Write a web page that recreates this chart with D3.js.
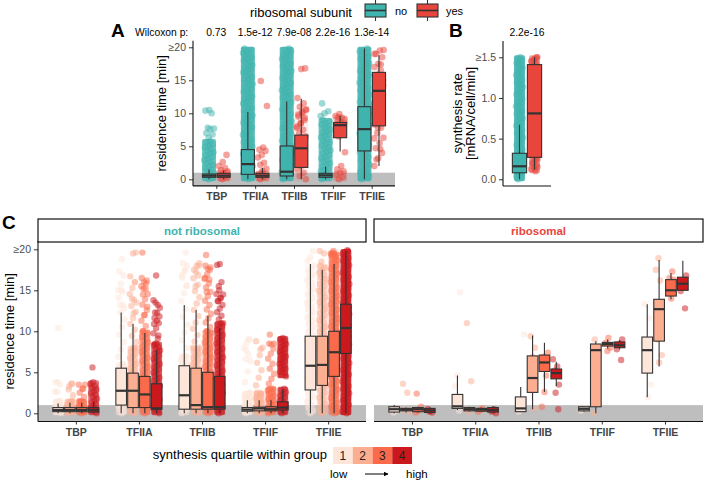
<!DOCTYPE html>
<html><head><meta charset="utf-8">
<script src="https://cdn.jsdelivr.net/npm/d3@7"></script>
<style>body{margin:0;background:#fff} svg{display:block} text{font-family:"Liberation Sans",Arial,Helvetica,sans-serif}</style>
</head><body><svg id="c" width="704" height="480"></svg>
<script>
// ---------------- DATA ----------------
const cats = ["TBP","TFIIA","TFIIB","TFIIF","TFIIE"];
const wilcoxA = ["0.73","1.5e-12","7.9e-08","2.2e-16","1.3e-14"];
const wilcoxB = ["2.2e-16"];
const subunits = ["no","yes"];
const quartiles = ["1","2","3","4"];
const facets = ["not ribosomal","ribosomal"];
const timeTicks = [0,5,10,15,20];
const timeTickLabels = ["0","5","10","15","≥20"];
const rateTicks = [0,0.5,1.0,1.5];
const rateTickLabels = ["0.0","0.5","1.0","≥1.5"];

// Panel A: box stats [lower whisker, Q1, median, Q3, upper whisker]
const boxA_no  = [[0,0.3,0.55,0.8,1.5],[0,0.75,2.3,4.5,10.2],[0,0.5,1.15,5.05,11.8],[0,0.3,0.6,0.9,1.9],[0,4.3,7.6,11.0,19.8]];
const boxA_yes = [[0,0.3,0.55,0.9,1.3],[0,0.3,0.55,0.9,1.7],[0,1.8,4.7,6.7,12.2],[4.2,6.3,8.2,8.6,9.6],[2.0,8.1,13.4,16.2,18.8]];
// dense point clouds [from, to, density]
const denseA_no  = [[[0,5.8,0.95]],[[0,19.8,1]],[[0,19.8,1]],[[0,9.0,0.95]],[[0,19.8,1]]];
const denseA_yes = [[[0,1.2,0.8]],[[0,1.0,0.8]],[[0,10.5,0.6]],[[0,1.0,0.7],[7.6,9.4,0.7]],[[3,19,0.3]]];
// individual points (residence time, min)
const ptsA_no  = [[10.5,10.4,10.0,7.8,7.7,7.6,7.0,6.8,6.3],[],[],[11.5,10.3,10.0,9.6],[]];
const ptsA_yes = [[3.7,2.6,2.0,1.7,1.4],[14.9,11.1,4.8,4.5,4.3,3.7,3.3,2.5,2.2,1.6,1.3],
  [16.8,16.7,12.3,11.5,11.0,10.6,10.2,9.8,9.3,8.5,7.8],
  [9.9,9.6,9.3,8.9,8.5,7.9,7.5,7.2,6.5,4.1,2.0,1.5,1.2],
  [19.6,19.5,19.0,18.5,17.5,17.0,16.5,15.8,15.0,14.3,13.5,12.8,12.0,11.5,10.8,10.0,9.5,9.0,8.3,7.8,7.0,6.3,5.5,4.7,4.0,3.2,2.0]];

// Panel B: synthesis rate
const boxB_no  = [0,0.08,0.16,0.32,0.67];
const boxB_yes = [0.12,0.27,0.81,1.41,1.5];
const denseB_no  = [[0,1.5,1]];
const denseB_yes = [[1.35,1.5,0.8],[0.1,0.3,0.8]];
const ptsB_no  = [];
const ptsB_yes = [1.5,1.48,1.45,1.42,1.38,1.3,1.2,1.1,0.95,0.85,0.7,0.6,0.5,0.4,0.35,0.3,0.25,0.2,0.15,0.12];

// Panel C, not ribosomal: [category][quartile]
const boxC_not = [
  [[0,0.2,0.4,0.7,1.2],[0,0.2,0.4,0.7,1.3],[0,0.2,0.4,0.7,1.3],[0,0.15,0.4,0.7,1.4]],
  [[0,1.0,2.75,5.5,12.3],[0,0.7,2.75,4.9,10.9],[0,0.7,2.3,4.5,9.8],[0,0.5,0.6,3.6,7.7]],
  [[0,0.5,2.2,5.8,13.2],[0,0.5,1.0,5.5,12.6],[0,0.5,0.75,5.0,11.9],[0,0.5,0.75,4.5,10.4]],
  [[0,0.25,0.45,0.7,1.6],[0,0.3,0.6,0.75,1.6],[0,0.3,0.5,0.8,1.6],[0,0.4,0.7,1.4,2.9]],
  [[0,2.85,5.8,9.4,18.2],[0,3.4,5.9,9.4,17.5],[0,4.5,7.45,10.0,18.2],[0,7.3,10.4,13.3,19.8]]];
const denseC_not = [
  [[[0,1.5,0.9],[1.5,3.8,0.35]],[[0,1.5,0.9],[1.5,3.6,0.45]],[[0,1.5,0.9],[1.5,3.5,0.5]],[[0,3.8,0.85]]],
  [[[0,6,0.8],[6,15,0.35]],[[0,8,0.8],[8,16,0.4]],[[0,10,0.85],[10,16.5,0.45]],[[0,8.5,0.9],[8.5,13.5,0.45]]],
  [[[0,7,0.8],[7,17.5,0.35]],[[0,8,0.8],[8,18,0.4]],[[0,10,0.85],[10,18,0.5]],[[0,11,0.9],[11,15,0.55]]],
  [[[0,2.5,0.9],[2.5,9,0.3]],[[0,2.5,0.9],[2.5,8,0.35]],[[0,3,0.9],[3,8.5,0.45]],[[0,3,0.9],[4.5,9.2,0.95]]],
  [[[0,18,0.65]],[[0,18,0.75]],[[0,19.5,0.9]],[[0,19.8,1]]]];
const ptsC_not = [
  [[10.4,3.8,3.5,2.6],[3.6,3.3],[3.5,3.0],[5.6]],
  [[18.8,17.3,16.8,15.8,15.0,14.8,13.2,12.8],[19.6,19.5,16.7,16.0,14.0,13.5,12.2],[19.6,16.2,16.0,15.5,15.2,14.5,13.0,12.0],[16.8,13.8,13.2,12.3,11.8,11.3,10.9,9.5]],
  [[19.6,18.3,18.0,17.3,16.8,15.5],[18.3,18.0,17.5,16.8,15.5],[19.3,17.8,17.6,16.5,16.3,14.8],[18.2,18.1,16.0,15.5,14.5,14.0,13.7]],
  [[9.0,8.6,8.0,7.2,6.6],[8.8,7.8],[9.6,8.5,8.4],[]],
  [[19.8,19.0,18.6],[19.8,19.5,18.5],[19.8,19.5,19.2,19.6],[19.9]]];

// Panel C, ribosomal
const boxC_rib = [
  [[0,0.15,0.5,0.8,1.0],[0.1,0.3,0.45,0.6,0.7],[0.1,0.2,0.5,0.7,0.8],[0,0.1,0.35,0.6,0.7]],
  [[0.4,0.6,0.85,2.3,4.6],[0.2,0.3,0.5,0.7,0.8],[0.2,0.25,0.45,0.6,0.7],[0.1,0.15,0.4,0.7,0.9]],
  [[0.2,0.2,0.6,2.0,3.2],[0.5,2.55,4.3,7.0,9.5],[2.6,5.1,6.2,7.1,8.6],[3.3,4.2,4.9,5.4,6.3]],
  [[0.2,0.3,0.55,0.8,0.9],[0,0.8,7.7,8.45,8.8],[7.9,8.2,8.45,8.65,9.0],[7.8,8.0,8.3,8.7,8.9]],
  [[1.95,4.9,7.7,9.3,13.3],[5.7,8.8,12.7,13.9,18.7],[13.9,14.3,15.0,16.3,17.1],[15.0,15.0,15.8,16.6,18.6]]];
const ptsC_rib = [
  [[0.3,0.1,0.5],[3.6,2.5,0.4,0.2],[2.4,0.8,0.3,0.1],[0.3,0.5,0.1,0.2]],
  [[14.75,4.6,3.3,0.3],[11.0,3.9,0.2,0.5],[0.4,0.2,0.6],[0.5,0.2,0.0,0.3]],
  [[9.6,1.5,0.2],[9.4,8.0,6.9,3.0,0.6],[2.6,0.8,4.6,6.9,7.4],[0.5,2.5,6.6,5.7,5.2,3.5]],
  [[0.3,0.6],[9.0,7.5,6.3,0.0],[9.2,8.6,8.0,7.6],[9.0,8.5,7.8,6.5]],
  [[13.3,11.6,6.6,3.5,2.0],[18.9,17.5,16.2,9.0,7.1,6.2],[17.3,16.5,16.3,14.0],[16.8,15.4,14.9,12.8]]];

// ---------------- STYLE ----------------
const teal = "#3FB3AE", red = "#E8453C";
const subColors = [teal, red];
const qColors = ["#FEE5D9","#FCAE91","#FB6A4A","#CB181D"];
const boxStroke = "#333333", grayBand = "#BEBEBE";
const tickCol = "#4D4D4D";

const svg = d3.select("#c");

// jitter offset in [-0.5, 0.5) from a low-discrepancy sequence (layout only)
function jit(i, seed) { return (((i + 1) * 0.6180339887 + seed * 0.2719) % 1) - 0.5; }

function drawCloud(g, cx, y, jw, r, bands, pts, color, seed) {
  // dense regions: a translucent core plus a column of overlapping translucent circles
  (bands||[]).forEach((b, bi) => {
    const top = y(b[1]), bot = y(b[0]);
    const core = Math.max(0, (b[2] - 0.55) * 1.9);
    if (core > 0) {
      g.append("rect").attr("x", cx - jw/2 - r * 0.6).attr("width", jw + r * 1.2)
        .attr("y", top - r * 0.6).attr("height", bot - top + r * 1.2).attr("rx", r * 0.6)
        .attr("fill", color).attr("opacity", Math.min(0.85, core));
    }
    const step = r * 0.45 / Math.pow(b[2], 1.6);
    const n = Math.max(1, Math.round((bot - top) / step));
    for (let i = 0; i <= n; i++) {
      g.append("circle").attr("cx", cx + jit(i, seed + bi * 3) * jw)
        .attr("cy", top + (bot - top) * i / n).attr("r", r)
        .attr("fill", color).attr("opacity", 0.5);
    }
  });
  (pts||[]).forEach((v, i) => {
    g.append("circle").attr("cx", cx + jit(i, seed + 7) * jw).attr("cy", y(v)).attr("r", r)
      .attr("fill", color).attr("opacity", 0.5);
  });
}
function drawBox(g, cx, y, bw, s, color) {
  const sw = 1.1;
  g.append("line").attr("x1", cx).attr("x2", cx).attr("y1", y(s[0])).attr("y2", y(s[1]))
    .attr("stroke", boxStroke).attr("stroke-width", sw);
  g.append("line").attr("x1", cx).attr("x2", cx).attr("y1", y(s[3])).attr("y2", y(s[4]))
    .attr("stroke", boxStroke).attr("stroke-width", sw);
  g.append("rect").attr("x", cx - bw/2).attr("width", bw).attr("y", y(s[3]))
    .attr("height", Math.max(0.5, y(s[1]) - y(s[3]))).attr("fill", color)
    .attr("stroke", boxStroke).attr("stroke-width", sw);
  g.append("line").attr("x1", cx - bw/2).attr("x2", cx + bw/2).attr("y1", y(s[2])).attr("y2", y(s[2]))
    .attr("stroke", boxStroke).attr("stroke-width", 2.2);
}
function yAxis(g, x, y, ticks, labels, top, bottom) {
  const ax = g.append("g").attr("transform", `translate(${x},0)`)
    .call(d3.axisLeft(y).tickValues(ticks).tickFormat((d, i) => labels[i]).tickSize(4).tickPadding(3).tickSizeOuter(0));
  ax.select(".domain").remove();
  ax.selectAll(".tick line").attr("stroke", "#333");
  ax.selectAll(".tick text").attr("fill", tickCol).style("font-size", "10.5px");
  g.append("line").attr("x1", x).attr("x2", x).attr("y1", top).attr("y2", bottom)
    .attr("stroke", "#111").attr("stroke-width", 1.1);
}
function xAxis(g, x, yPos, left, right) {
  const ax = g.append("g").attr("transform", `translate(0,${yPos})`)
    .call(d3.axisBottom(x).tickSize(3).tickPadding(4).tickSizeOuter(0));
  ax.select(".domain").remove();
  ax.selectAll(".tick line").attr("stroke", "#333");
  ax.selectAll(".tick text").attr("fill", "#444").style("font-size", "10.5px").style("font-weight", "bold");
  g.append("line").attr("x1", left).attr("x2", right).attr("y1", yPos).attr("y2", yPos)
    .attr("stroke", "#111").attr("stroke-width", 1.1);
}

// ---------------- PANEL A ----------------
{
  const L = 193, R = 395, T = 40.7, B = 185.9;
  const x = d3.scalePoint().domain(cats).range([L, R]).padding(0.6);
  const y = d3.scaleLinear().domain([-1, 21]).range([B, T]);
  const g = svg.append("g");
  const slot = x.step() * 0.75 / 2;
  g.append("rect").attr("x", L).attr("width", R - L).attr("y", y(1)).attr("height", y(-1) - y(1)).attr("fill", grayBand);
  const boxes = [boxA_no, boxA_yes], dens = [denseA_no, denseA_yes], pts = [ptsA_no, ptsA_yes];
  cats.forEach((c, i) => subunits.forEach((s, k) => {
    const cx = x(c) + (k - 0.5) * slot;
    drawCloud(g, cx, y, 10, 3.3, dens[k][i], pts[k][i], subColors[k], i * 2 + k);
  }));
  cats.forEach((c, i) => subunits.forEach((s, k) => {
    const cx = x(c) + (k - 0.5) * slot;
    drawBox(g, cx, y, slot * 0.9, boxes[k][i], subColors[k]);
  }));
  yAxis(g, L, y, timeTicks, timeTickLabels, T, B);
  xAxis(g, x, B, L, R);
  g.append("text").attr("transform", `translate(166,${(T + B) / 2}) rotate(-90)`).attr("text-anchor", "middle")
    .style("font-size", "13px").attr("fill", "#000").text("residence time [min]");
  g.append("text").attr("x", 111).attr("y", 37).style("font-size", "19px").style("font-weight", "bold").text("A");
  g.append("text").attr("x", 135).attr("y", 36).style("font-size", "10.3px").text("Wilcoxon p:");
  cats.forEach((c, i) => g.append("text").attr("x", x(c)).attr("y", 36).attr("text-anchor", "middle")
    .style("font-size", "10.3px").text(wilcoxA[i]));
}

// ---------------- PANEL B ----------------
{
  const L = 503, R = 551, T = 41, B = 186;
  const x = d3.scalePoint().domain(["all"]).range([L, R]).padding(0.6);
  const y = d3.scaleLinear().domain([0, 1.5]).range([179.3, 57.3]);
  const g = svg.append("g");
  const slot = x.step() * 0.75 / 2;
  const boxes = [boxB_no, boxB_yes], dens = [denseB_no, denseB_yes], pts = [ptsB_no, ptsB_yes];
  subunits.forEach((s, k) => drawCloud(g, x("all") + (k - 0.5) * slot, y, 7, 3.3, dens[k], pts[k], subColors[k], k));
  subunits.forEach((s, k) => drawBox(g, x("all") + (k - 0.5) * slot, y, slot * 0.95, boxes[k], subColors[k]));
  yAxis(g, L, y, rateTicks, rateTickLabels, T, B);
  g.append("line").attr("x1", L).attr("x2", R).attr("y1", B).attr("y2", B).attr("stroke", "#111").attr("stroke-width", 1.1);
  const t = g.append("text").attr("transform", `translate(462,${(T + B) / 2}) rotate(-90)`).attr("text-anchor", "middle")
    .style("font-size", "13px");
  t.append("tspan").attr("x", 0).attr("dy", 0).text("synthesis rate");
  t.append("tspan").attr("x", 0).attr("dy", 13).text("[mRNA/cell/min]");
  g.append("text").attr("x", 449).attr("y", 37).style("font-size", "19px").style("font-weight", "bold").text("B");
  g.append("text").attr("x", x("all")).attr("y", 36).attr("text-anchor", "middle").style("font-size", "10.3px").text(wilcoxB[0]);
}

// ---------------- TOP LEGEND ----------------
{
  const g = svg.append("g");
  g.append("text").attr("x", 250).attr("y", 16.5).style("font-size", "13px").text("ribosomal subunit");
  const keyX = [365, 417], labX = [395, 446];
  subunits.forEach((s, k) => {
    const kx = keyX[k] + 10.5;
    g.append("line").attr("x1", kx).attr("x2", kx).attr("y1", 0).attr("y2", 21).attr("stroke", boxStroke).attr("stroke-width", 1.1);
    g.append("rect").attr("x", keyX[k]).attr("width", 21).attr("y", 4).attr("height", 13)
      .attr("fill", subColors[k]).attr("stroke", boxStroke).attr("stroke-width", 1.1);
    g.append("line").attr("x1", keyX[k]).attr("x2", keyX[k] + 21).attr("y1", 10.5).attr("y2", 10.5).attr("stroke", boxStroke).attr("stroke-width", 1.6);
    g.append("text").attr("x", labX[k]).attr("y", 15).style("font-size", "11px").text(s);
  });
}

// ---------------- PANEL C ----------------
{
  const T = 241.1, B = 421.5;
  const y = d3.scaleLinear().domain([-1, 21]).range([B, T]);
  const ranges = [[38, 366], [374, 703]];
  const boxes = [boxC_not, boxC_rib];
  const dens = [denseC_not, null];
  const pts = [ptsC_not, ptsC_rib];
  const stripCol = [teal, red];
  facets.forEach((f, fi) => {
    const [L, R] = ranges[fi];
    const g = svg.append("g");
    const x = d3.scalePoint().domain(cats).range([L, R]).padding(0.6);
    const slot = x.step() * 0.75 / 4;
    g.append("rect").attr("x", L).attr("width", R - L).attr("y", y(1)).attr("height", y(-1) - y(1)).attr("fill", grayBand);
    cats.forEach((c, i) => quartiles.forEach((q, k) => {
      const cx = x(c) + (k - 1.5) * slot;
      drawCloud(g, cx, y, 7, 3.2, dens[fi] ? dens[fi][i][k] : [], pts[fi][i][k], qColors[k], i * 4 + k + fi);
    }));
    cats.forEach((c, i) => quartiles.forEach((q, k) => {
      const cx = x(c) + (k - 1.5) * slot;
      drawBox(g, cx, y, slot * 0.9, boxes[fi][i][k], qColors[k]);
    }));
    if (fi === 0) yAxis(g, L, y, timeTicks, timeTickLabels, T, B);
    xAxis(g, x, B, L, R);
    g.append("rect").attr("x", L).attr("y", 219).attr("width", R - L).attr("height", 23)
      .attr("fill", "#fff").attr("stroke", "#111").attr("stroke-width", 1.2);
    g.append("text").attr("x", (L + R) / 2).attr("y", 234.5).attr("text-anchor", "middle")
      .style("font-size", "11.5px").style("font-weight", "bold").attr("fill", stripCol[fi]).text(f);
  });
  svg.append("text").attr("transform", `translate(14,${(T + B) / 2}) rotate(-90)`).attr("text-anchor", "middle")
    .style("font-size", "13px").text("residence time [min]");
  svg.append("text").attr("x", 2).attr("y", 229).style("font-size", "19px").style("font-weight", "bold").text("C");
}

// ---------------- BOTTOM LEGEND ----------------
{
  const g = svg.append("g");
  g.append("text").attr("x", 327).attr("y", 459).attr("text-anchor", "end").style("font-size", "13px")
    .text("synthesis quartile within group");
  const kx = d3.scaleBand().domain(quartiles).range([333, 412]);
  quartiles.forEach((q, k) => {
    g.append("rect").attr("x", kx(q)).attr("y", 447).attr("width", kx.bandwidth()).attr("height", 17).attr("fill", qColors[k]);
    g.append("text").attr("x", kx(q) + kx.bandwidth() / 2).attr("y", 460).attr("text-anchor", "middle")
      .style("font-size", "12px").attr("fill", "#222").text(q);
  });
  g.append("text").attr("x", 330).attr("y", 478).style("font-size", "11.5px").text("low");
  g.append("text").attr("x", 406).attr("y", 478).style("font-size", "11.5px").text("high");
  svg.append("defs").append("marker").attr("id", "ah").attr("viewBox", "0 0 10 10").attr("refX", 9).attr("refY", 5)
    .attr("markerWidth", 5).attr("markerHeight", 5).attr("orient", "auto")
    .append("path").attr("d", "M0,0 L10,5 L0,10 z").attr("fill", "#000");
  g.append("line").attr("x1", 365).attr("x2", 388).attr("y1", 474).attr("y2", 474)
    .attr("stroke", "#000").attr("stroke-width", 1).attr("marker-end", "url(#ah)");
}
</script></body></html>
